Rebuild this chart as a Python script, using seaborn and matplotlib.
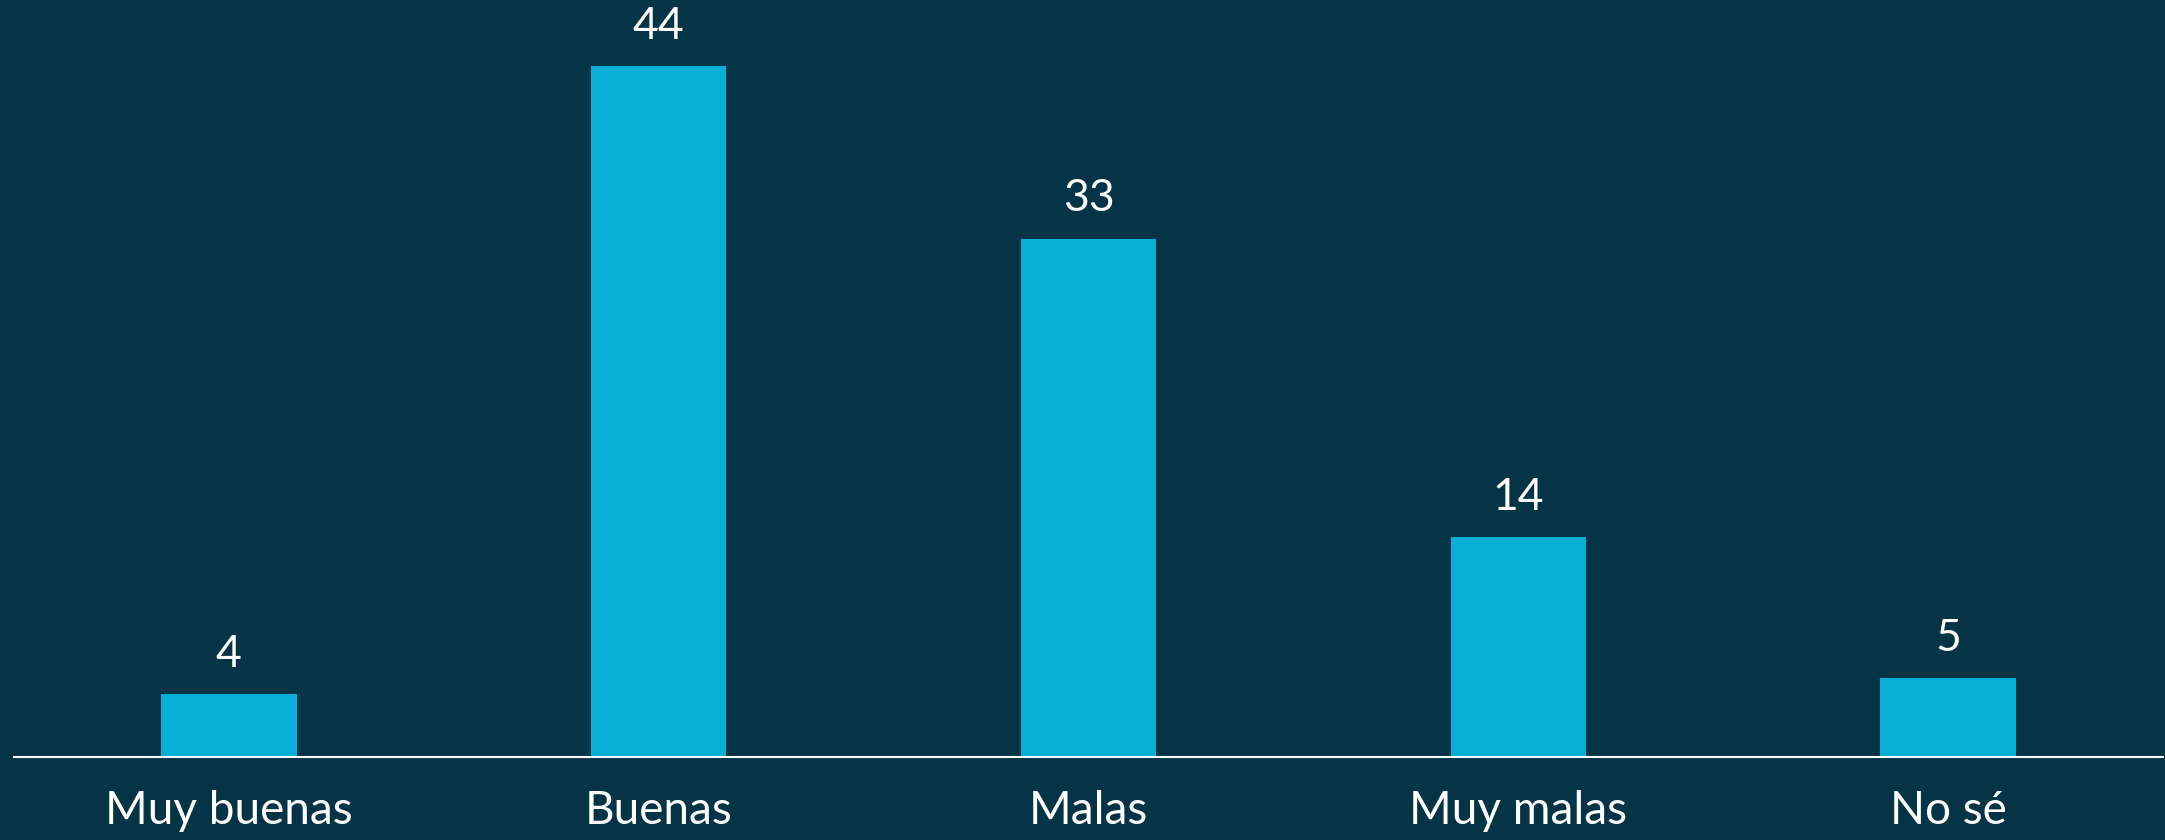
import pandas as pd
import numpy as np
import matplotlib
matplotlib.use("Agg")
import matplotlib.pyplot as plt
import seaborn as sns

# data
categories = ["Muy buenas", "Buenas", "Malas", "Muy malas", "No sé"]
values = [4, 44, 33, 14, 5]

bg = "#053446"
bar_color = "#07AED5"

sns.set_style("white")
plt.rcParams['font.family'] = ['Lato', 'DejaVu Sans']

df = pd.DataFrame({"cat": categories, "val": values})

fig = plt.figure(figsize=(21.65, 8.4), dpi=100, facecolor=bg)
ax = fig.add_axes([14 / 2165, (840 - 757) / 840, (2163 - 14) / 2165, 757 / 840])
ax.set_facecolor(bg)

sns.barplot(data=df, x="cat", y="val", color=bar_color, width=0.315,
            saturation=1, ax=ax, linewidth=0)

ax.set_xlim(-0.5, 4.5)
ax.set_ylim(0, 48.2)

# value labels above bars
for i, v in enumerate(values):
    ax.annotate(str(v), (i, v), xytext=(0, 14), textcoords="offset points",
                ha="center", va="bottom", color="white", fontsize=32)

ax.set_xlabel("")
ax.set_ylabel("")
ax.set_yticks([])
ax.tick_params(axis="x", length=0, pad=24, labelsize=33, colors="white")
for s in ["top", "right", "left"]:
    ax.spines[s].set_visible(False)
ax.spines["bottom"].set_color("white")
ax.spines["bottom"].set_linewidth(1.5)

fig.savefig("out.png", dpi=100, facecolor=bg)
